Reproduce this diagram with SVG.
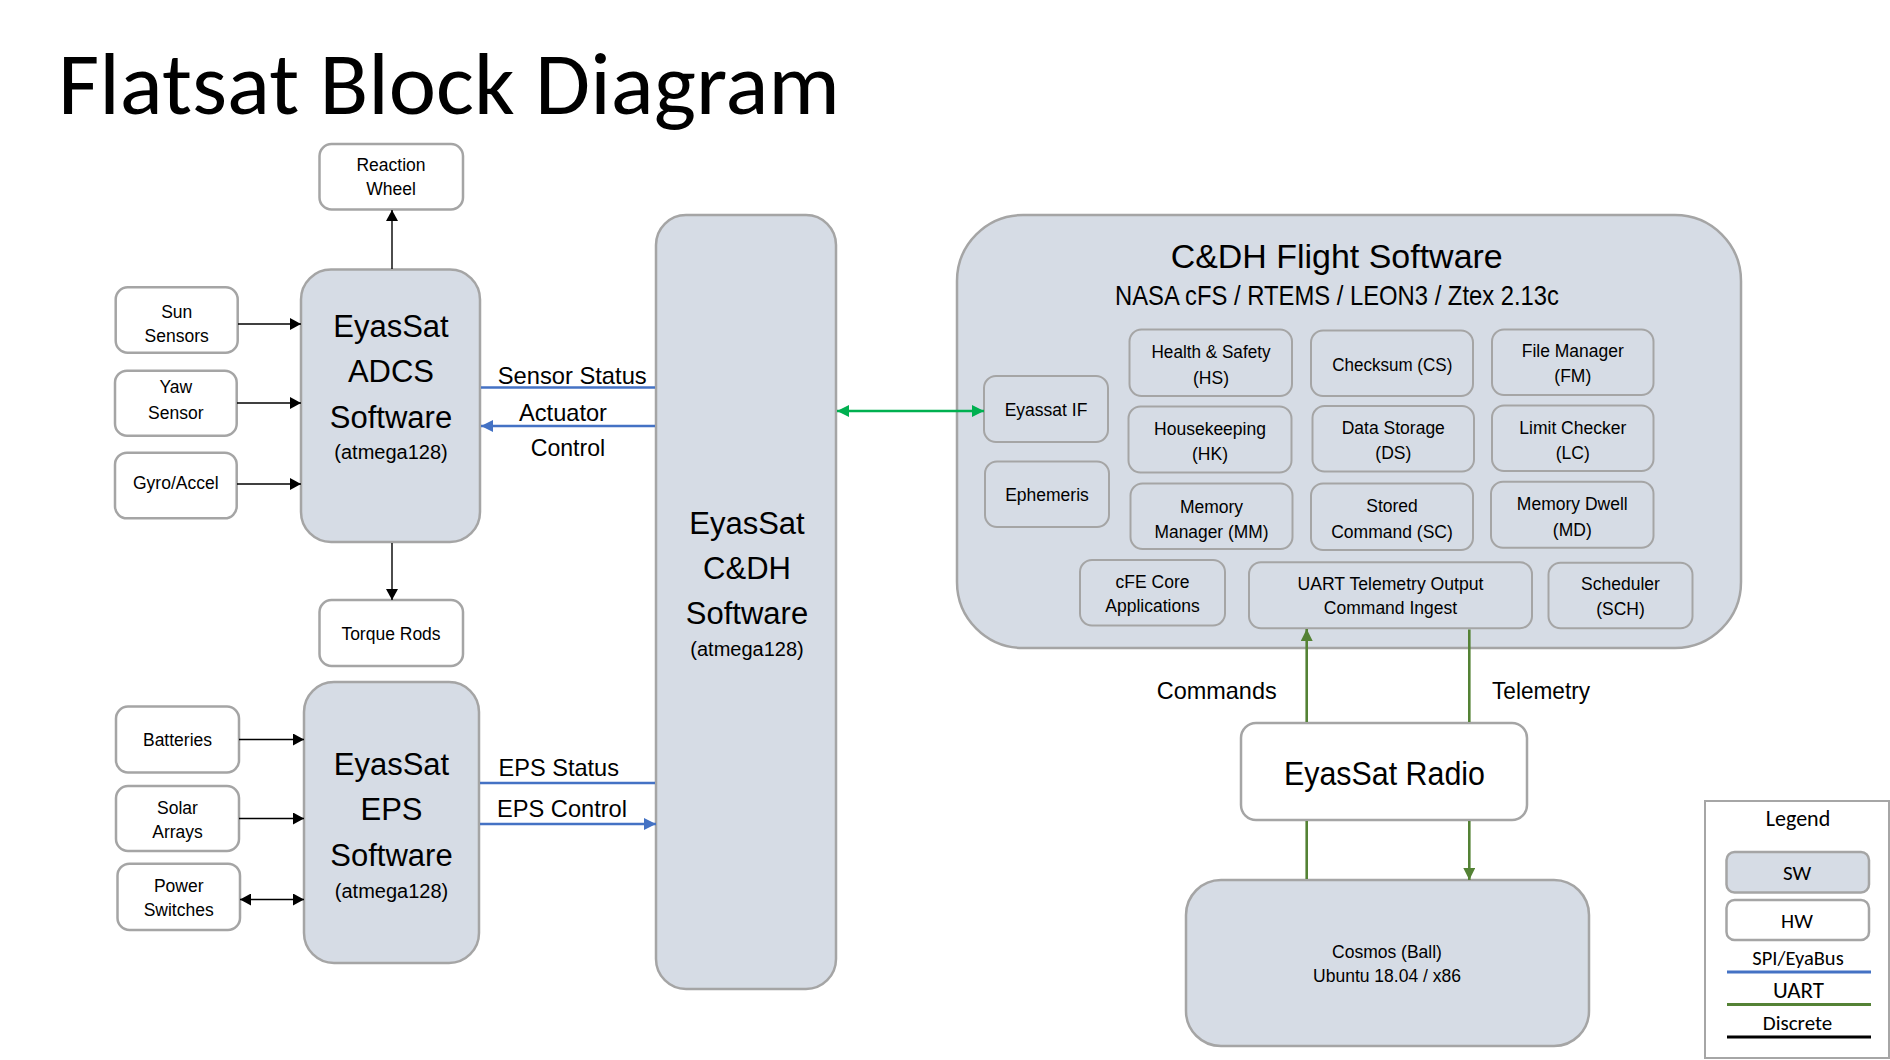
<svg xmlns="http://www.w3.org/2000/svg" width="1890" height="1060" viewBox="0 0 1890 1060">
<defs>
<style>
text{font-family:"Liberation Sans",Arial,sans-serif;fill:#000}
.c{text-anchor:middle}
.f17{font-size:17.5px}
.f20{font-size:20px}
.f24{font-size:24px}
.f31{font-size:31px}
.cal{font-family:Carlito,Lato,"Open Sans",sans-serif}
.sw{fill:#D6DCE5;stroke:#A5A5A5;stroke-width:2.5}
.hw{fill:#FFFFFF;stroke:#A5A5A5;stroke-width:2.5}
.sub{fill:#D6DCE5;stroke:#A5A5A5;stroke-width:2}
.disc{stroke:#000;stroke-width:1.4;fill:none}
.spi{stroke:#4472C4;stroke-width:2.6;fill:none}
.uart{stroke:#548235;stroke-width:2.6;fill:none}
.uif{stroke:#00B050;stroke-width:2.6;fill:none}
</style>
<marker id="ak" viewBox="0 0 11 12" refX="11" refY="6" markerWidth="11" markerHeight="12" markerUnits="userSpaceOnUse" orient="auto-start-reverse"><path d="M0,0 L11,6 L0,12 z" fill="#000"/></marker>
<marker id="ab" viewBox="0 0 12 12" refX="12" refY="6" markerWidth="12" markerHeight="12" markerUnits="userSpaceOnUse" orient="auto-start-reverse"><path d="M0,0 L12,6 L0,12 z" fill="#4472C4"/></marker>
<marker id="ag" viewBox="0 0 12 12" refX="12" refY="6" markerWidth="12" markerHeight="12" markerUnits="userSpaceOnUse" orient="auto-start-reverse"><path d="M0,0 L12,6 L0,12 z" fill="#00B050"/></marker>
<marker id="au" viewBox="0 0 12 12" refX="12" refY="6" markerWidth="12" markerHeight="12" markerUnits="userSpaceOnUse" orient="auto-start-reverse"><path d="M0,0 L12,6 L0,12 z" fill="#548235"/></marker>
</defs>
<rect x="0" y="0" width="1890" height="1060" fill="#FFFFFF"/>
<text id="title" x="58" y="114" class="cal" font-size="88" font-weight="300" textLength="782" lengthAdjust="spacingAndGlyphs">Flatsat Block Diagram</text>

<g id="reaction-wheel"><rect class="hw" x="319.5" y="144" width="143.5" height="65.5" rx="12"/>
<text class="c f17" x="391" y="171">Reaction</text><text class="c f17" x="391" y="195">Wheel</text></g>
<g id="torque-rods"><rect class="hw" x="319.5" y="600" width="143.5" height="66" rx="12"/>
<text class="c f17" x="391" y="639.5">Torque Rods</text></g>
<g id="sun-sensors"><rect class="hw" x="115.7" y="287.3" width="122" height="65.4" rx="12"/>
<text class="c f17" x="176.7" y="318">Sun</text><text class="c f17" x="176.7" y="341.5">Sensors</text></g>
<g id="yaw-sensor"><rect class="hw" x="115" y="370.7" width="121.7" height="65" rx="12"/>
<text class="c f17" x="175.8" y="393">Yaw</text><text class="c f17" x="175.8" y="418.5">Sensor</text></g>
<g id="gyro-accel"><rect class="hw" x="115" y="452.7" width="121.7" height="65.6" rx="12"/>
<text class="c f17" x="175.8" y="489">Gyro/Accel</text></g>
<g id="batteries"><rect class="hw" x="116" y="706.5" width="123" height="66" rx="12"/>
<text class="c f17" x="177.5" y="745.5">Batteries</text></g>
<g id="solar-arrays"><rect class="hw" x="116" y="786" width="123" height="65" rx="12"/>
<text class="c f17" x="177.5" y="813.5">Solar</text><text class="c f17" x="177.5" y="837.5">Arrays</text></g>
<g id="power-switches"><rect class="hw" x="117.5" y="863.7" width="122.5" height="66.3" rx="12"/>
<text class="c f17" x="178.7" y="891.5">Power</text><text class="c f17" x="178.7" y="916">Switches</text></g>

<g id="adcs"><rect class="sw" x="301" y="269.5" width="179" height="272.5" rx="30"/>
<text class="c f31" x="391" y="337">EyasSat</text><text class="c f31" x="391" y="382">ADCS</text><text class="c f31" x="391" y="427.5">Software</text><text class="c f20" x="391" y="459">(atmega128)</text></g>
<g id="eps"><rect class="sw" x="304" y="682" width="175" height="281" rx="30"/>
<text class="c f31" x="391.5" y="775">EyasSat</text><text class="c f31" x="391.5" y="820">EPS</text><text class="c f31" x="391.5" y="865.5">Software</text><text class="c f20" x="391.5" y="898">(atmega128)</text></g>

<g id="labels-left">
<text class="f24" x="497.7" y="384" textLength="149" lengthAdjust="spacingAndGlyphs">Sensor Status</text>
<text class="f24" x="519" y="421" textLength="88" lengthAdjust="spacingAndGlyphs">Actuator</text>
<text class="f24" x="530.7" y="455.7" textLength="74.5" lengthAdjust="spacingAndGlyphs">Control</text>
<text class="f24" x="498.5" y="776" textLength="120.5" lengthAdjust="spacingAndGlyphs">EPS Status</text>
<text class="f24" x="497" y="817" textLength="130" lengthAdjust="spacingAndGlyphs">EPS Control</text>
</g>

<g id="cdh"><rect class="sw" x="656" y="215" width="180" height="774" rx="30"/>
<text class="c f31" x="747" y="534">EyasSat</text><text class="c f31" x="747" y="579">C&amp;DH</text><text class="c f31" x="747" y="624">Software</text><text class="c f20" x="747" y="656">(atmega128)</text></g>

<g id="flight-software"><rect class="sw" x="957" y="215" width="784" height="433" rx="66"/>
<text class="c" x="1336.7" y="268.3" font-size="34" textLength="332" lengthAdjust="spacingAndGlyphs">C&amp;DH Flight Software</text>
<text class="c" x="1337" y="305" font-size="28" textLength="444" lengthAdjust="spacingAndGlyphs">NASA cFS / RTEMS / LEON3 / Ztex 2.13c</text></g>

<g id="eyassat-if"><rect class="sub" x="984" y="376" width="124" height="66" rx="12"/>
<text class="c f17" x="1046" y="415.5">Eyassat IF</text></g>
<g id="ephemeris"><rect class="sub" x="985" y="461.5" width="124" height="65.5" rx="12"/>
<text class="c f17" x="1047" y="500.5">Ephemeris</text></g>
<g id="hs"><rect class="sub" x="1129.5" y="329.5" width="162.5" height="66.5" rx="12"/>
<text class="c f17" x="1211" y="358" textLength="119" lengthAdjust="spacingAndGlyphs">Health &amp; Safety</text><text class="c f17" x="1211" y="383.5">(HS)</text></g>
<g id="cs"><rect class="sub" x="1311" y="330.5" width="162" height="65.5" rx="12"/>
<text class="c f17" x="1392.3" y="371" textLength="120" lengthAdjust="spacingAndGlyphs">Checksum (CS)</text></g>
<g id="fm"><rect class="sub" x="1492" y="329.5" width="161.5" height="65.5" rx="12"/>
<text class="c f17" x="1572.8" y="356.7" textLength="102" lengthAdjust="spacingAndGlyphs">File Manager</text><text class="c f17" x="1572.8" y="382">(FM)</text></g>
<g id="hk"><rect class="sub" x="1128.5" y="406.5" width="163" height="66" rx="12"/>
<text class="c f17" x="1210" y="435">Housekeeping</text><text class="c f17" x="1210" y="460">(HK)</text></g>
<g id="ds"><rect class="sub" x="1312.5" y="406" width="161.5" height="65.5" rx="12"/>
<text class="c f17" x="1393.3" y="434.3">Data Storage</text><text class="c f17" x="1393.3" y="458.5">(DS)</text></g>
<g id="lc"><rect class="sub" x="1492" y="405.5" width="161.5" height="65.5" rx="12"/>
<text class="c f17" x="1572.8" y="433.7">Limit Checker</text><text class="c f17" x="1572.8" y="458.8">(LC)</text></g>
<g id="mm"><rect class="sub" x="1130.5" y="483.5" width="162" height="65.5" rx="12"/>
<text class="c f17" x="1211.5" y="513.3">Memory</text><text class="c f17" x="1211.5" y="537.7" textLength="114" lengthAdjust="spacingAndGlyphs">Manager (MM)</text></g>
<g id="sc"><rect class="sub" x="1311" y="483.5" width="162" height="66.5" rx="12"/>
<text class="c f17" x="1392" y="511.7">Stored</text><text class="c f17" x="1392" y="537.7">Command (SC)</text></g>
<g id="md"><rect class="sub" x="1491" y="481.7" width="162.5" height="66" rx="12"/>
<text class="c f17" x="1572.3" y="510">Memory Dwell</text><text class="c f17" x="1572.3" y="535.7">(MD)</text></g>
<g id="cfe"><rect class="sub" x="1080" y="560" width="145" height="65.5" rx="12"/>
<text class="c f17" x="1152.5" y="588.3">cFE Core</text><text class="c f17" x="1152.5" y="612.3">Applications</text></g>
<g id="uart-tlm"><rect class="sub" x="1249" y="562.3" width="283" height="66" rx="12"/>
<text class="c f17" x="1390.5" y="590" textLength="186" lengthAdjust="spacingAndGlyphs">UART Telemetry Output</text><text class="c f17" x="1390.5" y="614.3">Command Ingest</text></g>
<g id="sch"><rect class="sub" x="1548.5" y="562.7" width="144" height="65.6" rx="12"/>
<text class="c f17" x="1620.5" y="590">Scheduler</text><text class="c f17" x="1620.5" y="615">(SCH)</text></g>

<g id="labels-uart">
<text class="c f24" x="1216.7" y="699" textLength="120" lengthAdjust="spacingAndGlyphs">Commands</text>
<text class="c f24" x="1541" y="699" textLength="98" lengthAdjust="spacingAndGlyphs">Telemetry</text>
</g>

<g id="radio"><rect class="hw" x="1241" y="723" width="286" height="97" rx="15"/>
<text class="c" x="1384.5" y="785" font-size="34" textLength="201" lengthAdjust="spacingAndGlyphs">EyasSat Radio</text></g>
<g id="cosmos"><rect class="sw" x="1186" y="880" width="403" height="166" rx="35"/>
<text class="c f17" x="1387" y="957.7">Cosmos (Ball)</text><text class="c f17" x="1387" y="982">Ubuntu 18.04 / x86</text></g>

<g id="legend">
<rect x="1705" y="801" width="184" height="257" fill="#FFFFFF" stroke="#A6A6A6" stroke-width="2"/>
<text class="cal c" x="1798" y="825.5" font-size="22">Legend</text>
<rect class="sw" x="1726.5" y="852" width="142.5" height="40.5" rx="8"/>
<text class="cal c" x="1797" y="880" font-size="21">SW</text>
<rect class="hw" x="1726.5" y="900" width="142.5" height="40" rx="8"/>
<text class="cal c" x="1797" y="927.5" font-size="21">HW</text>
<text class="cal c" x="1798" y="965" font-size="20.5">SPI/EyaBus</text>
<line x1="1727" y1="972" x2="1871" y2="972" stroke="#4472C4" stroke-width="3"/>
<text class="cal c" x="1798.5" y="998.3" font-size="23">UART</text>
<line x1="1727" y1="1004.5" x2="1871" y2="1004.5" stroke="#548235" stroke-width="3"/>
<text class="cal c" x="1797.5" y="1030" font-size="21">Discrete</text>
<line x1="1727" y1="1037" x2="1871" y2="1037" stroke="#000000" stroke-width="3"/>
</g>

<g id="connectors">
<line class="disc" x1="392" y1="269" x2="392" y2="210" marker-end="url(#ak)"/>
<line class="disc" x1="392" y1="543" x2="392" y2="600" marker-end="url(#ak)"/>
<line class="disc" x1="238" y1="324" x2="301" y2="324" marker-end="url(#ak)"/>
<line class="disc" x1="237" y1="403" x2="301" y2="403" marker-end="url(#ak)"/>
<line class="disc" x1="237" y1="484" x2="301" y2="484" marker-end="url(#ak)"/>
<line class="disc" x1="239" y1="739.5" x2="304" y2="739.5" marker-end="url(#ak)"/>
<line class="disc" x1="239" y1="818.5" x2="304" y2="818.5" marker-end="url(#ak)"/>
<line class="disc" x1="240" y1="899.5" x2="304" y2="899.5" marker-start="url(#ak)" marker-end="url(#ak)"/>
<line class="spi" x1="481" y1="387.5" x2="655" y2="387.5"/>
<line class="spi" x1="655" y1="426" x2="481" y2="426" marker-end="url(#ab)"/>
<line class="spi" x1="480" y1="783" x2="655" y2="783"/>
<line class="spi" x1="480" y1="824" x2="656" y2="824" marker-end="url(#ab)"/>
<line class="uif" x1="837" y1="411" x2="984" y2="411" marker-start="url(#ag)" marker-end="url(#ag)"/>
<line class="uart" x1="1306.7" y1="722" x2="1306.7" y2="629" marker-end="url(#au)"/>
<line class="uart" x1="1469.3" y1="629.5" x2="1469.3" y2="722"/>
<line class="uart" x1="1306.7" y1="821" x2="1306.7" y2="879"/>
<line class="uart" x1="1469.3" y1="821" x2="1469.3" y2="880" marker-end="url(#au)"/>
</g>
</svg>
